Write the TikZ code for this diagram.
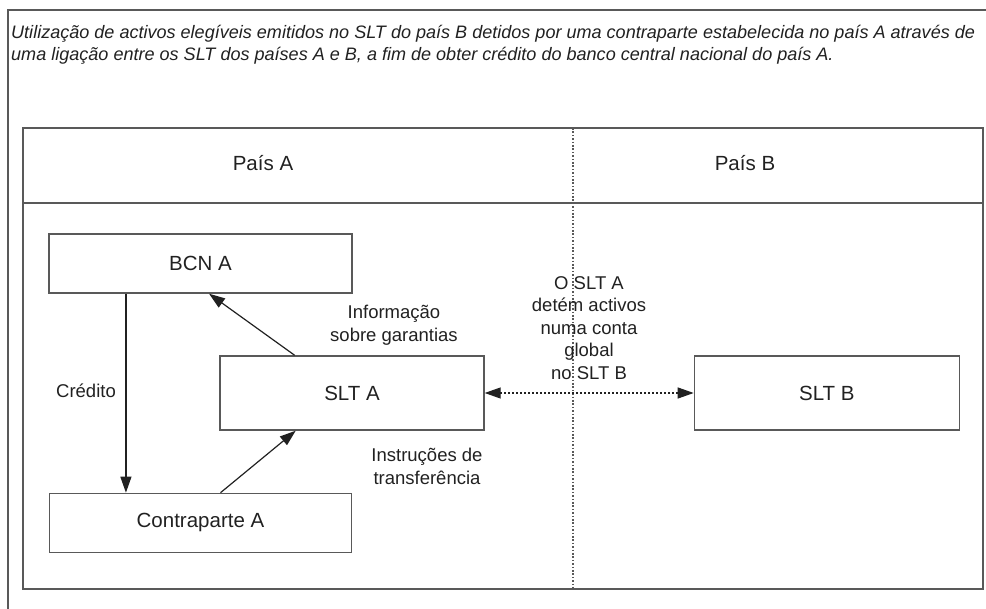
\documentclass[tikz,border=0pt]{standalone}
\usepackage{fontspec}
\setmainfont{Liberation Sans}
\usepackage{tikz}
\usetikzlibrary{shapes,arrows,arrows.meta,fit,positioning}
\usetikzlibrary{calc}
\definecolor{ink}{rgb}{.13,.13,.13}
\definecolor{rule}{rgb}{.35,.35,.35}
\def\Titulo{Utilização de activos elegíveis emitidos no SLT do país B detidos por uma contraparte estabelecida no país A através de\\uma ligação entre os SLT dos países A e B, a fim de obter crédito do banco central nacional do país A.}

\begin{document}
\begin{tikzpicture}[% pixel units, y runs downwards like the scan
			x=1pt,y=-1pt,
			every node/.style={
				align=center,  		% "\\" breaks the labels
				text=ink,
				font=\fontsize{18.5}{23}\selectfont
			},
			box/.style={rectangle,draw=rule,line width=1.4pt,font=\fontsize{20.5}{24}\selectfont,minimum height=59pt},
			arr/.style={draw=ink,line width=1.2pt,-{Triangle[length=16pt,width=11pt]}},
			arrs/.style={draw=ink,line width=1.2pt,{Triangle[length=16pt,width=11pt]}-{Triangle[length=16pt,width=11pt]},dash pattern=on 2pt off 2pt},
			frame/.style={draw=rule,line width=1.4pt}
		]
		\useasboundingbox (0,0) rectangle (986,609);
		% frames
		\draw[frame] (986,10) -- (8,10) -- (8,609);
		\draw[frame] (23,128) rectangle (983,589);
		\draw[frame] (23,203) -- (983,203);
		\draw[draw=rule,line width=1.4pt,dash pattern=on 1.7pt off 1.7pt] (573,128) -- (573,589);

		\node[anchor=base west,align=left,inner sep=0pt,font=\itshape\fontsize{18.05}{22}\selectfont](T) at (11,61){\Titulo};
		\node[font=\fontsize{20.5}{24}\selectfont](P1) at (263,163){País A};
		\node[font=\fontsize{20.5}{24}\selectfont](P2) at (745,163){País B};

		\node[box,minimum width=303pt](R1) at (200.5,263.5){BCN A};
		\node[box,minimum width=302pt](R2)[below=199pt of R1]{Contraparte A};
		\node[box,minimum width=264pt,minimum height=74pt](R3) at (352,393){SLT A};
		\node[box,minimum width=265pt,minimum height=74pt](R4)[right=209pt of R3]{SLT B};

		\node(L1) at (86,391){Crédito};
		\node(L2) at (394,325){Informação\\sobre garantias};
		\node(L3) at (427,466){Instruções de\\transferência};
		\node[font=\fontsize{18.5}{22.5}\selectfont](L4) at (589,328){O SLT A\\detém activos\\numa conta\\global\\no SLT B};

		\draw[arr] ($(R1.south west)!.255!(R1.south east)$) coordinate (C1) -- (C1 |- R2.north);
		\draw[arr] ($(R2.north west)!.566!(R2.north east)$) -- ($(R3.south west)!.288!(R3.south east)$);
		\draw[arr] ($(R3.north west)!.284!(R3.north east)$) -- ($(R1.south west)!.528!(R1.south east)$);
		\draw[arrs] (R3) -- (R4);
	\end{tikzpicture}
\end{document}
